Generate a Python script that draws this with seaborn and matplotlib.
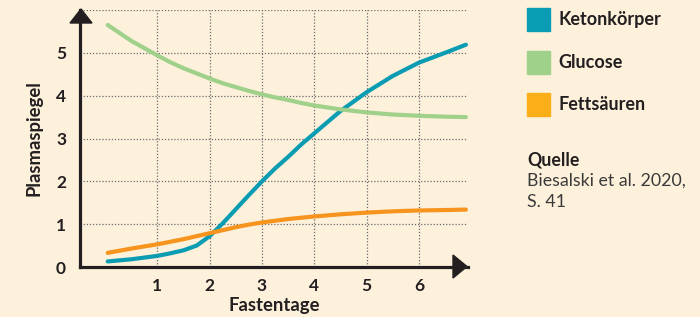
import numpy as np
import pandas as pd
import seaborn as sns
import matplotlib.pyplot as plt
from matplotlib.patches import Rectangle, Polygon

# values
days = [0.05, 0.5, 1.0, 1.25, 1.5, 1.75, 2.0, 2.25, 2.5, 2.75, 3.0, 3.25, 3.5,
        3.75, 4.0, 4.5, 5.0, 5.5, 6.0, 6.5, 6.9]
keton = [0.13, 0.18, 0.26, 0.32, 0.39, 0.50, 0.72, 1.02, 1.35, 1.68, 2.0, 2.3, 2.57,
         2.86, 3.12, 3.64, 4.08, 4.46, 4.77, 5.0, 5.19]
glucose = [5.65, 5.28, 4.94, 4.78, 4.64, 4.52, 4.40, 4.29, 4.20, 4.11, 4.03, 3.96, 3.90,
           3.83, 3.77, 3.68, 3.61, 3.56, 3.53, 3.51, 3.50]
fett = [0.33, 0.43, 0.53, 0.59, 0.65, 0.72, 0.79, 0.86, 0.93, 0.99, 1.04, 1.08, 1.12,
        1.15, 1.18, 1.23, 1.27, 1.30, 1.32, 1.33, 1.34]

series = ["Ketonkörper", "Glucose", "Fettsäuren"]
line_colors = ["#0A9CB2", "#9FD18A", "#F7941D"]
legend_colors = ["#0A9CB2", "#9FD18A", "#FBAE17"]
x_ticks = [1, 2, 3, 4, 5, 6]
y_ticks = [0, 1, 2, 3, 4, 5, 6]
y_labels = ["0", "1", "2", "3", "4", "5", ""]

bg = "#FDF1DC"
ink = "#231F20"

sns.set_style("white")
plt.rcParams["font.family"] = ["Lato", "DejaVu Sans"]

df = pd.DataFrame({
    "Fastentage": days * 3,
    "Plasmaspiegel": keton + glucose + fett,
    "Serie": np.repeat(series, len(days)),
})

fig = plt.figure(figsize=(7, 3.17), dpi=100, facecolor=bg)
ax = fig.add_axes([80 / 700, 50 / 317, 388 / 700, 257 / 317])
ax.set_facecolor(bg)

sns.lineplot(data=df, x="Fastentage", y="Plasmaspiegel", hue="Serie",
             hue_order=series, palette=dict(zip(series, line_colors)),
             linewidth=3, legend=False, ax=ax, zorder=3)

ax.set_xlim(-0.48, 6.94)
ax.set_ylim(0.0, 6.0)
ax.set_xticks(x_ticks)
ax.set_yticks(y_ticks)
ax.set_yticklabels(y_labels)
ax.grid(True, linestyle=(0, (1, 1.5)), color="#6b6b6b", linewidth=0.9)
ax.tick_params(length=0, labelsize=12.5, colors=ink)
ax.tick_params(axis="y", pad=10)
ax.tick_params(axis="x", pad=8)
for lab in ax.get_xticklabels() + ax.get_yticklabels():
    lab.set_fontweight("bold")

for s in ["top", "right"]:
    ax.spines[s].set_visible(False)
ax.spines["left"].set_linewidth(2.3)
ax.spines["bottom"].set_linewidth(2.3)
ax.spines["left"].set_color(ink)
ax.spines["bottom"].set_color(ink)
ax.spines["left"].set_zorder(4)
ax.spines["bottom"].set_zorder(4)

ax.set_xlabel("Fastentage", fontsize=13.3, fontweight="bold", color=ink, labelpad=2)
ax.set_ylabel("Plasmaspiegel", fontsize=13.3, fontweight="bold", color=ink, labelpad=10)

# axis arrow heads (figure pixel coords)
W, H = 700, 317
def px(x, y):
    return (x / W, 1 - y / H)
fig.add_artist(Polygon([px(70, 23), px(92, 23), px(81, 9)], closed=True,
                       transform=fig.transFigure, color=ink, zorder=5))
fig.add_artist(Polygon([px(453, 255), px(453, 278), px(467, 266.5)], closed=True,
                       transform=fig.transFigure, color=ink, zorder=5))

# legend
for i, (name, c) in enumerate(zip(series, legend_colors)):
    yc = 19.5 + i * 42.5
    fig.add_artist(Rectangle(px(527, yc + 11.5), 23 / W, 23 / H,
                             transform=fig.transFigure, color=c))
    fig.text(558 / W, 1 - yc / H, name, fontsize=13, fontweight="bold",
             color=ink, va="center", ha="left")

fig.text(527 / W, 1 - 160 / H, "Quelle", fontsize=12.8, fontweight="bold",
         color=ink, va="center", ha="left")
fig.text(527 / W, 1 - 181 / H, "Biesalski et al. 2020,", fontsize=12.8,
         color="#3a3a3a", va="center", ha="left")
fig.text(527 / W, 1 - 202 / H, "S. 41", fontsize=12.8,
         color="#3a3a3a", va="center", ha="left")

fig.savefig("out.png", dpi=100, facecolor=bg)
